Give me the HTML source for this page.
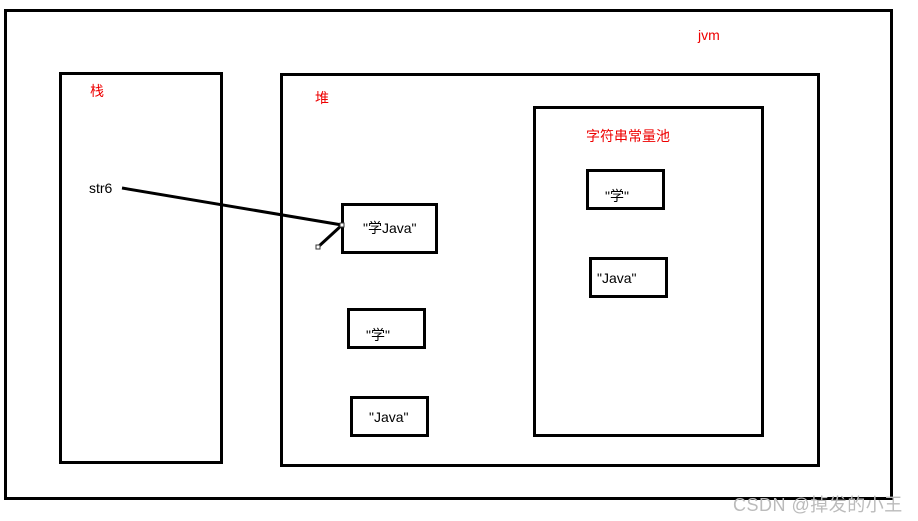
<!DOCTYPE html>
<html><head><meta charset="utf-8"><style>
body{margin:0;background:#fff;width:918px;height:521px;overflow:hidden;position:relative;font-family:"Liberation Sans","Noto Sans CJK SC",sans-serif;}
.b{position:absolute;border:3px solid #000;box-sizing:border-box;}
.t{position:absolute;font-size:14px;white-space:nowrap;}
.r{color:#e00;}
</style></head><body>
<div class="b" style="left:4px;top:9px;width:889px;height:491px"></div>
<div class="b" style="left:59px;top:72px;width:164px;height:392px"></div>
<div class="b" style="left:280px;top:73px;width:540px;height:394px"></div>
<div class="b" style="left:533px;top:106px;width:231px;height:331px"></div>
<div class="b" style="left:341px;top:203px;width:97px;height:51px"></div>
<div class="b" style="left:347px;top:308px;width:79px;height:41px"></div>
<div class="b" style="left:350px;top:396px;width:79px;height:41px"></div>
<div class="b" style="left:586px;top:169px;width:79px;height:41px"></div>
<div class="b" style="left:589px;top:257px;width:79px;height:41px"></div>
<div class="t r" style="left:698px;top:27px">jvm</div>
<div class="t r" style="left:90px;top:81px">栈</div>
<div class="t r" style="left:315px;top:88px">堆</div>
<div class="t r" style="left:586px;top:126px">字符串常量池</div>
<div class="t" style="left:89px;top:180px">str6</div>
<div class="t" style="left:363px;top:218px">"学Java"</div>
<div class="t" style="left:366px;top:325px">"学"</div>
<div class="t" style="left:369px;top:409px">"Java"</div>
<div class="t" style="left:605px;top:186px">"学"</div>
<div class="t" style="left:597px;top:270px">"Java"</div>
<div class="t" style="left:733px;top:491px;color:#bbb;font-size:18px;letter-spacing:0.5px">CSDN @掉发的小王</div>
<svg style="position:absolute;left:0;top:0" width="918" height="521">
<line x1="122" y1="188" x2="342" y2="225" stroke="#000" stroke-width="3"/>
<line x1="342" y1="225" x2="318" y2="247" stroke="#000" stroke-width="3"/>
<rect x="340" y="223" width="4" height="4" fill="#fff" stroke="#333"/>
<rect x="316" y="245" width="4" height="4" fill="#fff" stroke="#333"/>
</svg>
</body></html>
